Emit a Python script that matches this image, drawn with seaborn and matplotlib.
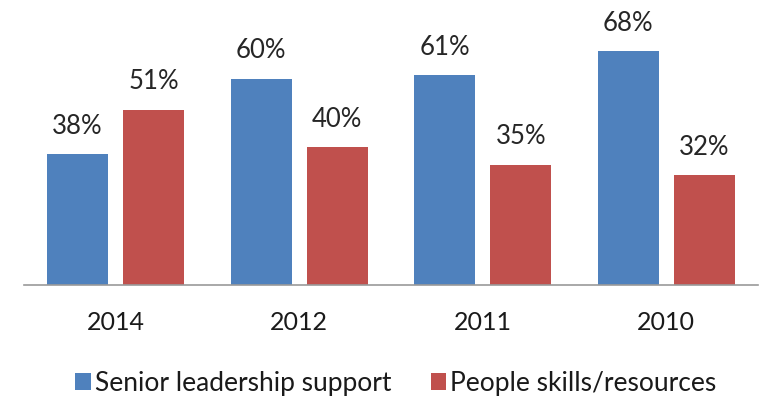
import matplotlib
matplotlib.use("Agg")
import matplotlib.pyplot as plt
import seaborn as sns
import pandas as pd

years = ["2014", "2012", "2011", "2010"]
senior_leadership = [38, 60, 61, 68]
people_skills = [51, 40, 35, 32]
series_names = ["Senior leadership support", "People skills/resources"]
series_colors = ["#4F81BD", "#C0504D"]

df = pd.DataFrame({
    "year": years * 2,
    "value": senior_leadership + people_skills,
    "series": [series_names[0]] * len(years) + [series_names[1]] * len(years),
})

sns.set_style("white")
plt.rcParams["font.family"] = ["Lato", "DejaVu Sans"]

fig = plt.figure(figsize=(7.6, 3.97), dpi=100)
ax = fig.add_axes([24 / 760, 112 / 397, 734 / 760, 275 / 397])

sns.barplot(
    data=df, x="year", y="value", hue="series",
    order=years, hue_order=series_names,
    palette=series_colors, width=0.83, gap=0.2,
    saturation=1, linewidth=0, ax=ax,
)

ax.set_xlim(-0.5, len(years) - 0.5)
ax.set_ylim(0, 80)
ax.set_xlabel("")
ax.set_ylabel("")
ax.set_yticks([])
ax.tick_params(axis="x", length=0, pad=19, labelsize=18, labelcolor="#1a1a1a")

for side in ["top", "right", "left"]:
    ax.spines[side].set_visible(False)
ax.spines["bottom"].set_color("#9a9a9a")
ax.spines["bottom"].set_linewidth(1.2)

for container in ax.containers:
    ax.bar_label(container, fmt="{:.0f}%", padding=11, fontsize=18.5, color="#262626")

handles, labels = ax.get_legend_handles_labels()
if ax.get_legend() is not None:
    ax.get_legend().remove()
fig.legend(
    handles, labels, loc="center", bbox_to_anchor=(396 / 760, 1 - 383 / 397),
    ncol=2, frameon=False, fontsize=19, handlelength=0.6, handleheight=0.6,
    handletextpad=0.15, columnspacing=1.48, labelcolor="#1a1a1a",
)

fig.savefig("out.png", dpi=100)
